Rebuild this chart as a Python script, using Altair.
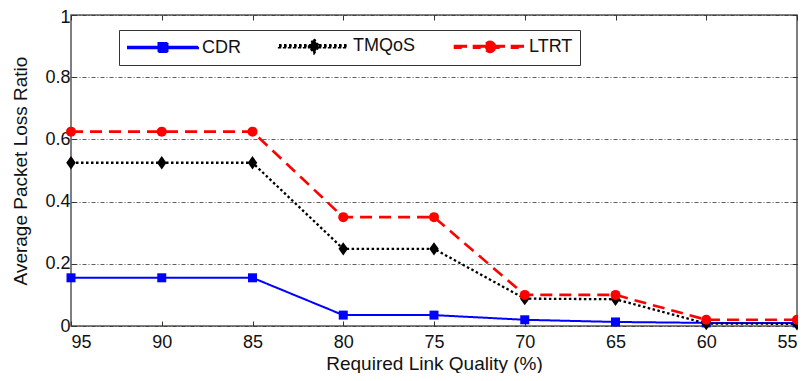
import math
import altair as alt
import pandas as pd

# ---- data ----
quality = [95, 90, 85, 80, 75, 70, 65, 60, 55]
cdr = [0.155, 0.155, 0.155, 0.035, 0.035, 0.020, 0.013, 0.010, 0.010]
tmqos = [0.525, 0.525, 0.525, 0.248, 0.248, 0.088, 0.086, 0.008, 0.007]
ltrt = [0.625, 0.625, 0.625, 0.350, 0.350, 0.100, 0.100, 0.020, 0.020]
series_names = ["CDR", "TMQoS", "LTRT"]
marker_keys = ["square", "diamond", "dot"]
y_ticks = [0, 0.2, 0.4, 0.6, 0.8, 1]

rows = []
for name, mk, vals in zip(series_names, marker_keys, [cdr, tmqos, ltrt]):
    for q, v in zip(quality, vals):
        rows.append({"q": q, "v": v, "series": name, "marker": mk})
df = pd.DataFrame(rows)

FONT = "Liberation Sans"
colors = ["#0000FF", "#000000", "#FF0000"]
dashes = [[1, 0], [2.5, 2.5], [12, 7]]
widths = [2, 2.6, 2]
marker_paths = ["M-1,-1L1,-1L1,1L-1,1Z", "M0,-1.4L1,0L0,1.4L-1,0Z", "circle"]
marker_sizes = [81, 100, 100]


# ---- legend glyphs (filled path: line pieces + marker), 1 unit = 5 px ----
def rect(x0, x1, h):
    return f"M{x0:.2f},{-h:.2f}L{x1:.2f},{-h:.2f}L{x1:.2f},{h:.2f}L{x0:.2f},{h:.2f}Z"


def pieces(on, off, h):
    out, x = "", -7.0
    while x < 7.0 - 1e-6:
        out += rect(x, min(x + on, 7.0), h)
        x += on + off
    return out


sq = "M-0.9,-0.9L0.9,-0.9L0.9,0.9L-0.9,0.9Z"
dm = "M0,-1.4L1,0L0,1.4L-1,0Z"
circ = "M" + "L".join(
    f"{math.cos(k * math.pi / 12):.3f},{math.sin(k * math.pi / 12):.3f}" for k in range(24)
) + "Z"
g_cdr = rect(-7, 7, 0.17) + sq
g_tmq = pieces(0.5, 0.5, 0.22) + dm
g_ltr = pieces(2.4, 1.4, 0.17) + circ
legend_shape = (
    f"datum.value == 'CDR' ? '{g_cdr}' : "
    f"datum.value == 'TMQoS' ? '{g_tmq}' : '{g_ltr}'"
)

color_scale = alt.Scale(domain=series_names, range=colors)
x_scale = alt.Scale(domain=[55, 95], reverse=True, nice=False, zero=False)
y_scale = alt.Scale(domain=[0, 1], nice=False, zero=True)

inward = alt.ExprRef(expr="-5")
TITLE_SIZE = 19
LABEL_SIZE = 18

lines = alt.Chart(df).mark_line(strokeCap="butt").encode(
    x=alt.X("q:Q", scale=x_scale, axis=alt.Axis(
        orient="bottom", values=quality, format="d", grid=False, domain=False,
        tickSize=inward, tickColor="#333", labelFontSize=LABEL_SIZE, labelFont=FONT,
        labelColor="#111", labelBaseline="alphabetic", labelPadding=26,
        title="Required Link Quality (%)", titleFont=FONT, titleFontSize=TITLE_SIZE,
        titleFontWeight="normal", titleColor="#111", titleY=43,
        titleBaseline="alphabetic")),
    y=alt.Y("v:Q", scale=y_scale, axis=alt.Axis(
        orient="left", values=y_ticks, format="~g", grid=True,
        gridDash=[4, 2, 1, 2], gridColor="#333", gridWidth=0.8, domain=False,
        tickSize=inward, tickColor="#333", labelFontSize=LABEL_SIZE, labelFont=FONT,
        labelColor="#111", labelBaseline="middle", labelPadding=6,
        labelOffset=alt.ExprRef(expr="datum.value == 1 ? 2 : 0"),
        title="Average Packet Loss Ratio", titleFont=FONT, titleFontSize=TITLE_SIZE,
        titleFontWeight="normal", titleColor="#111", titleX=-45,
        titleBaseline="alphabetic")),
    color=alt.Color("series:N", scale=color_scale, legend=alt.Legend(
        title=None, orient="none", legendX=48, legendY=15,
        direction="horizontal",
        symbolType=alt.ExprRef(expr=legend_shape),
        symbolFillColor=alt.ExprRef(expr="scale('color', datum.value)"),
        symbolStrokeColor="transparent", symbolStrokeWidth=0,
        symbolSize=100, symbolOffset=28,
        labelOffset=30, labelFontSize=18, labelFont=FONT, labelColor="#111",
        labelExpr="datum.label == 'LTRT' ? 'LTRT      ' : datum.label",
        columnPadding=33, padding=7, strokeColor="#333", fillColor="white",
        cornerRadius=0)),
    strokeDash=alt.StrokeDash("series:N", scale=alt.Scale(domain=series_names, range=dashes), legend=None),
    strokeWidth=alt.StrokeWidth("series:N", scale=alt.Scale(domain=series_names, range=widths), legend=None),
)

points = alt.Chart(df).mark_point(filled=True, opacity=1).encode(
    x=alt.X("q:Q", scale=x_scale, axis=alt.Axis(
        orient="top", values=quality, labels=False, grid=False, domain=False,
        tickSize=inward, tickColor="#333", title=None)),
    y=alt.Y("v:Q", scale=y_scale, axis=alt.Axis(
        orient="right", values=y_ticks, labels=False, grid=False, domain=False,
        tickSize=inward, tickColor="#333", title=None)),
    color=alt.Color("series:N", scale=color_scale, legend=None),
    shape=alt.Shape("marker:N", scale=alt.Scale(domain=marker_keys, range=marker_paths), legend=None),
    size=alt.Size("marker:N", scale=alt.Scale(domain=marker_keys, range=marker_sizes), legend=None),
)

chart = alt.layer(lines, points).resolve_axis(
    x="independent", y="independent"
).properties(
    width=726, height=311,
    autosize=alt.AutoSizeParams(type="none"),
    padding={"left": 63, "top": 7, "right": 1, "bottom": 47},
    background="white",
).configure_view(stroke="#555", strokeWidth=1.5)

chart.save("out.html", embed_options={"renderer": "svg", "actions": False})
